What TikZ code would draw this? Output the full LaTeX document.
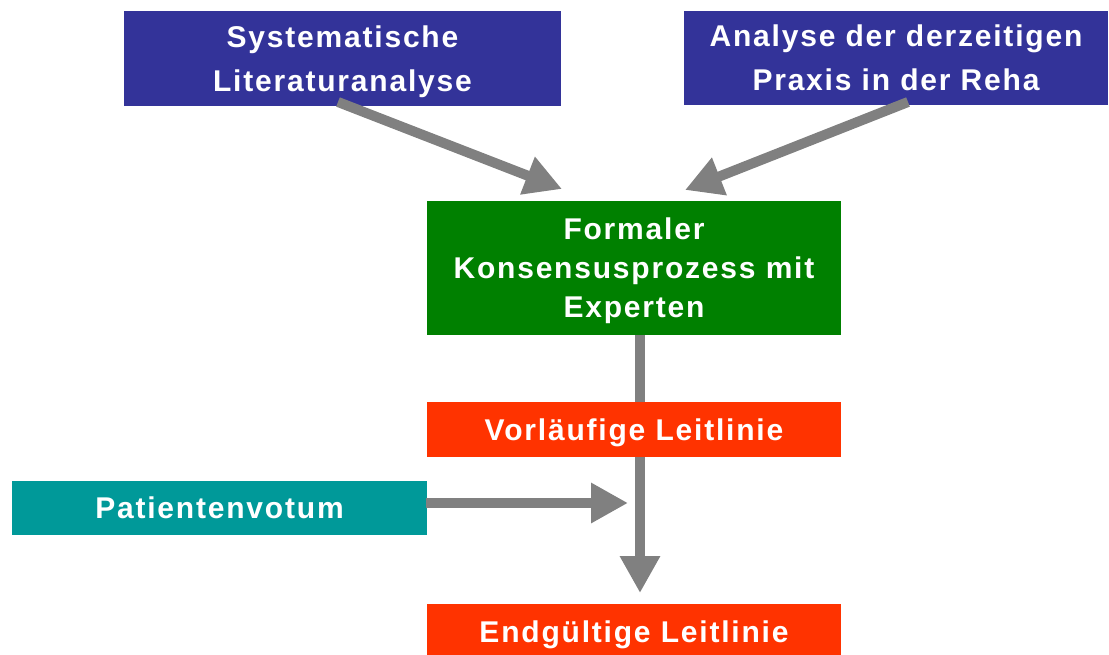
\documentclass[tikz,border=0pt]{standalone}
\usepackage{fontspec}
\newfontfamily\boxfont{Liberation Sans}[LetterSpace=6]
\usetikzlibrary{arrows.meta}
\definecolor{boxblue}{RGB}{51,51,153}
\definecolor{boxgreen}{RGB}{0,128,0}
\definecolor{boxred}{RGB}{255,51,0}
\definecolor{boxteal}{RGB}{0,153,153}
\definecolor{arrowgray}{RGB}{128,128,128}
\tikzset{
  flowbox/.style={inner sep=0pt, text=white, align=center, text depth=0pt,
    font=\boxfont\bfseries\fontsize{30}{44}\selectfont},
  flowarrow/.style={draw=arrowgray, line width=10pt,
    -{Triangle[length=37pt,width=38pt]}, arrowgray}
}
\begin{document}
\begin{tikzpicture}[x=1pt,y=-1pt]
\useasboundingbox (0,0) rectangle (1109,655);
\node[flowbox, fill=boxblue, minimum width=437pt, minimum height=95pt] (blue1) at (342.5,58.5) {Systematische\\Literaturanalyse};
\node[flowbox, fill=boxblue, minimum width=424pt, minimum height=94pt] (blue2) at (896,58) {Analyse der derzeitigen\\Praxis in der Reha};
\node[flowbox, fill=boxgreen, minimum width=414pt, minimum height=134pt, font=\boxfont\bfseries\fontsize{30}{39}\selectfont] (green) at (634,268) {Formaler\\Konsensusprozess mit\\Experten};
\node[flowbox, fill=boxteal, minimum width=415pt, minimum height=54pt] (teal) at (219.5,508) {Patientenvotum};
\coordinate (s1) at (338,102);
\coordinate (e1) at (562,189);
\coordinate (s2) at (908,102);
\coordinate (e2) at (685,190);
\coordinate (tipv) at (640,593);
\coordinate (starth) at (426,503);
\coordinate (tiph) at (628,503);
\draw[flowarrow] (s1) -- (e1);
\draw[flowarrow] (s2) -- (e2);
\draw[flowarrow] (green.south -| tipv) -- (tipv);
\draw[flowarrow] (starth) -- (tiph);
\node[flowbox, fill=boxred, minimum width=414pt, minimum height=55pt] (red1) at (634,429.5) {Vorläufige Leitlinie};
\node[flowbox, fill=boxred, minimum width=414pt, minimum height=55pt] (red2) at (634,631.5) {Endgültige Leitlinie};
\end{tikzpicture}
\end{document}
